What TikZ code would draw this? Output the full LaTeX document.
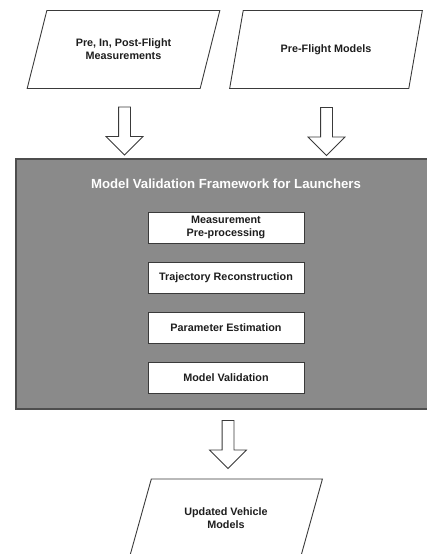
\documentclass[tikz,border=0pt]{standalone}
\usepackage{fontspec}
\setmainfont{Liberation Sans}
\usepackage{tikz}
\usetikzlibrary{shapes.geometric}
\usetikzlibrary{shapes.arrows}
\definecolor{framegray}{HTML}{8A8A8A}
\definecolor{edgegray}{HTML}{3A3A3A}
\definecolor{textgray}{HTML}{1E1E1E}
\tikzset{
    dataio/.style={trapezium, trapezium left angle=64.6, trapezium right angle=115.4,
        trapezium stretches=true, draw=edgegray, line width=0.9pt,
        minimum width=193pt, minimum height=78pt, align=center, text=textgray,
        font=\bfseries\fontsize{10.8}{13}\selectfont},
    stage/.style={rectangle, draw=edgegray, fill=white, line width=0.9pt,
        minimum width=156pt, minimum height=31pt, align=center, text=textgray,
        font=\bfseries\fontsize{10.8}{13}\selectfont},
    flow/.style={single arrow, draw=edgegray, fill=white, line width=0.8pt,
        shape border rotate=270, inner sep=5.5pt, minimum width=36pt,
        single arrow head extend=12.5pt, minimum height=48pt}}

\begin{document}
\begin{tikzpicture}[x=1pt, y=-1pt]

                    \useasboundingbox (0,0) rectangle (426,554);

                    \node[dataio] (M) at (123.5,49.5) {Pre, In, Post-Flight\\Measurements};
                    \node[dataio] (P) at (326,49.5) {Pre-Flight Models};

                    \node[flow] (AM) at (124.5,128) {};
                    \node[flow] (AP) at (326.5,128.5) {};

                    \node[rectangle, draw=edgegray!90, fill=framegray, line width=1.1pt,
                          minimum width=416pt, minimum height=250pt] (F) at (224,284) {};
                    \node[text=white, font=\bfseries\fontsize{13.2}{15}\selectfont] (T) at (226,184) {Model Validation Framework for Launchers};

                    \node[stage] (S1) at (226,227.5) {Measurement\\Pre-processing};
                    \node[stage] (S2) at (226,277.5) {Trajectory Reconstruction};
                    \node[stage] (S3) at (226,327.5) {Parameter Estimation};
                    \node[stage] (S4) at (226,377.5) {Model Validation};

                    \node[flow] (AU) at (228,441.5) {};

                    \node[dataio] (U) at (226,518) {Updated Vehicle\\Models};

                \end{tikzpicture}
\end{document}
